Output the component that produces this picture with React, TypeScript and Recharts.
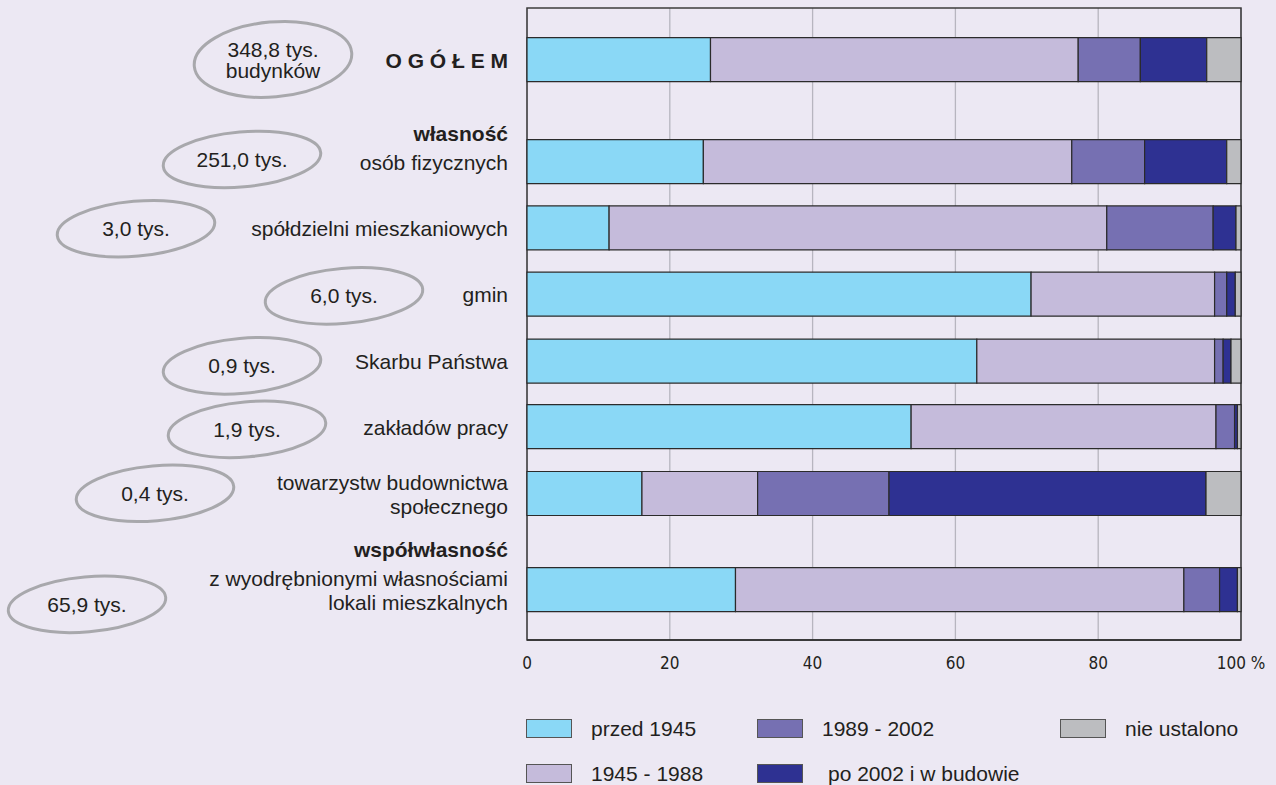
import React from 'react'
import {
  BarChart, Bar, XAxis, YAxis, CartesianGrid, Legend, ReferenceArea,
} from 'recharts'

// row labels ('|' = line break), group headers and building counts
const categories = [
  'O G Ó Ł E M',
  'osób fizycznych',
  'spółdzielni mieszkaniowych',
  'gmin',
  'Skarbu Państwa',
  'zakładów pracy',
  'towarzystw budownictwa|społecznego',
  'z wyodrębnionymi własnościami|lokali mieszkalnych',
]
const headers = ['', 'własność', '', '', '', '', '', 'współwłasność']
const counts = [
  '348,8 tys.|budynków',
  '251,0 tys.',
  '3,0 tys.',
  '6,0 tys.',
  '0,9 tys.',
  '1,9 tys.',
  '0,4 tys.',
  '65,9 tys.',
]

// share of buildings by construction period, %
const przed1945   = [25.7, 24.7, 11.5, 70.6, 63.0, 53.8, 16.1, 29.2]
const lata4588    = [51.5, 51.6, 69.7, 25.7, 33.3, 42.7, 16.2, 62.8]
const lata8902    = [8.7, 10.2, 14.9, 1.7, 1.2, 2.6, 18.4, 5.0]
const po2002      = [9.3, 11.5, 3.2, 1.2, 1.1, 0.4, 44.4, 2.5]
const nieUstalono = [4.8, 2.0, 0.7, 0.8, 1.4, 0.5, 4.9, 0.5]

const xTicks = [0, 20, 40, 60, 80, 100]

// row slots on the category axis (gaps leave room for the group headers)
const rowSlot = [0, 1.54, 2.54, 3.54, 4.55, 5.54, 6.55, 8.0]
const slotDomain: [number, number] = [-0.777, 8.765]

// where the count bubbles sit, left of the labels
const bubbleX  = [273, 242, 136, 344, 242, 247, 155, 87]
const bubbleDy = [0, -2, 1, 2, 5, 3, 0, 15]

const series = [
  { key: 'przed', name: 'przed 1945', color: '#8AD8F6' },
  { key: 'l4588', name: '1945 - 1988', color: '#C5BBDB' },
  { key: 'l8902', name: '1989 - 2002', color: '#7670B2' },
  { key: 'po02', name: 'po 2002 i w budowie', color: '#2E3192' },
  { key: 'nieu', name: 'nie ustalono', color: '#BCBDC0' },
]

const data = categories.map((name, i) => ({
  name,
  slot: rowSlot[i],
  przed: przed1945[i],
  l4588: lata4588[i],
  l8902: lata8902[i],
  po02: po2002[i],
  nieu: nieUstalono[i],
}))

const FONT = '"Liberation Sans", Arial, Helvetica, sans-serif'
const INK = '#231F20'

const RowTick = (props: any) => {
  const { x, y, payload } = props
  const i = rowSlot.indexOf(payload.value)
  if (i < 0) return null
  const lines = categories[i].split('|')
  const lh = 23.5
  const y0 = y - ((lines.length - 1) * lh) / 2 + 1
  const cLines = counts[i].split('|')
  const by = y + bubbleDy[i]
  const cy0 = by - ((cLines.length - 1) * 21) / 2
  const bold = i === 0
  return (
    <g fontFamily={FONT} fontSize={21} fill={INK}>
      <ellipse
        cx={bubbleX[i]} cy={by} rx={79} ry={cLines.length > 1 ? 37.5 : 27.5}
        fill="none" stroke="#A8A8AC" strokeWidth={3}
        transform={`rotate(-5 ${bubbleX[i]} ${by})`}
      />
      {cLines.map((t, k) => (
        <text key={k} x={bubbleX[i]} y={cy0 + k * 21} dy="0.36em" textAnchor="middle">{t}</text>
      ))}
      {headers[i] && (
        <text x={x} y={y0 - 29.5} dy="0.36em" textAnchor="end" fontWeight="bold">{headers[i]}</text>
      )}
      {lines.map((t, k) => (
        <text key={k} x={x} y={y0 + k * lh} dy="0.36em" textAnchor="end" fontWeight={bold ? 'bold' : 'normal'}>{t}</text>
      ))}
    </g>
  )
}

const legendOrder = ['przed 1945', '1945 - 1988', '1989 - 2002', 'po 2002 i w budowie', 'nie ustalono']

const renderLegend = (props: any) => {
  const payload: any[] = props.payload || []
  const items = legendOrder.map(n => payload.find(p => p.value === n)).filter(Boolean)
  return (
    <div style={{
      display: 'grid', gridAutoFlow: 'column',
      gridTemplateRows: '45px 45px', gridTemplateColumns: '231px 303px auto',
      fontFamily: FONT, fontSize: 21, color: INK,
    }}>
      {items.map((p: any) => (
        <div key={p.value} style={{ display: 'flex', alignItems: 'center' }}>
          <span style={{
            display: 'inline-block', width: 46, height: 19, boxSizing: 'border-box',
            background: p.color, border: '1px solid #555', marginRight: p.value.startsWith('po') ? 25 : 19,
          }} />
          <span>{p.value}</span>
        </div>
      ))}
    </div>
  )
}

export default function App() {
  return (
    <div style={{ position: 'absolute', top: 0, left: 0, width: 1276, height: 785, background: '#ECE8F3' }}>
      <BarChart
        width={1276} height={785} data={data} layout="vertical"
        margin={{ top: 8, right: 35, left: 0, bottom: 115 }}
        barSize={44}
      >
        <CartesianGrid vertical horizontal={false} stroke="#B7B5BF" strokeWidth={1.3} />
        <XAxis
          type="number" domain={[0, 100]} ticks={xTicks} interval={0}
          tickFormatter={(v: number) => (v === 100 ? '100 %' : String(v))}
          tick={{ fontSize: 17, fill: INK, fontFamily: '"Liberation Sans Narrow", "DejaVu Sans Condensed", sans-serif' }}
          tickLine={false} tickMargin={11} height={30}
          axisLine={{ stroke: '#2B2B2B', strokeWidth: 1.5 }}
        />
        <YAxis
          type="number" dataKey="slot" domain={slotDomain} allowDataOverflow
          ticks={rowSlot} interval={0} width={527}
          tickLine={false} axisLine={false} tickMargin={13}
          tick={(p: any) => <RowTick {...p} />}
        />
        <Legend
          layout="horizontal" verticalAlign="middle" align="center"
          content={renderLegend}
          wrapperStyle={{ top: 706, left: 526, width: 750, height: 90 }}
        />
        {series.map(s => (
          <Bar
            key={s.key} dataKey={s.key} name={s.name} stackId="a"
            fill={s.color} stroke="#2B2B2B" strokeWidth={1.2}
            isAnimationActive={false}
          />
        ))}
        <ReferenceArea
          x1={0} x2={100} y1={slotDomain[0]} y2={slotDomain[1]}
          fill="none" stroke="#3C3C3C" strokeWidth={1.5} ifOverflow="visible"
        />
      </BarChart>
    </div>
  )
}
